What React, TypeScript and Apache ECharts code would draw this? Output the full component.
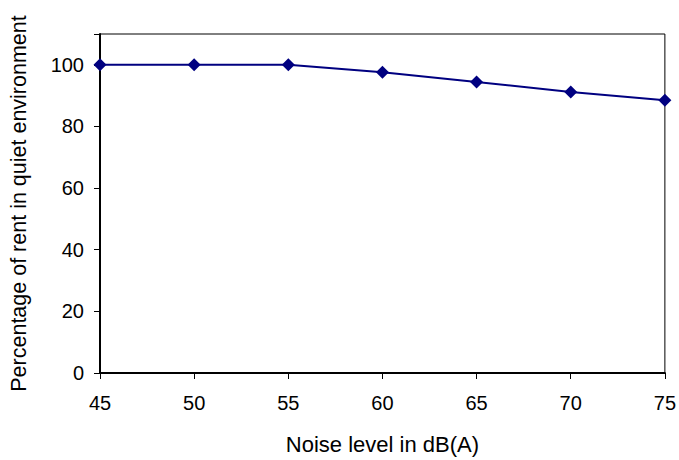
import React, { useEffect, useRef } from "react";
import * as echarts from "echarts";

const noiseLevels = [45, 50, 55, 60, 65, 70, 75];
const rentPercent = [100, 100, 100, 97.6, 94.4, 91.2, 88.5];
const xTitle = "Noise level in dB(A)";
const yTitle = "Percentage of rent in quiet environment";

export default function App() {
  const ref = useRef<HTMLDivElement>(null);
  useEffect(() => {
    document.body.style.margin = "0";
    if (!ref.current) return;
    const chart = echarts.init(ref.current, undefined, { renderer: "svg" });
    const font = "Liberation Sans, Arial, sans-serif";
    chart.setOption({
      animation: false,
      backgroundColor: "#ffffff",
      grid: {
        left: 100,
        right: 12,
        top: 34,
        bottom: 83,
        show: true,
        borderColor: "#000000",
        borderWidth: 1,
        backgroundColor: "transparent",
      },
      xAxis: {
        type: "value",
        min: 45,
        max: 75,
        interval: 5,
        name: xTitle,
        nameLocation: "middle",
        nameGap: 60,
        nameTextStyle: { fontFamily: font, fontSize: 22, color: "#000" },
        axisLine: { show: true, lineStyle: { color: "#000", width: 2 } },
        axisTick: { show: true, inside: false, length: 6, lineStyle: { color: "#000" } },
        axisLabel: { fontFamily: font, fontSize: 20, color: "#000", margin: 20 },
        splitLine: { show: false },
      },
      yAxis: {
        type: "value",
        min: 0,
        max: 110,
        interval: 20,
        name: yTitle,
        nameLocation: "middle",
        nameGap: 70,
        nameTextStyle: { fontFamily: font, fontSize: 21.5, color: "#000" },
        axisLine: { show: true, lineStyle: { color: "#000", width: 2 } },
        axisTick: { show: true, inside: false, length: 6, lineStyle: { color: "#000" } },
        axisLabel: {
          fontFamily: font,
          fontSize: 20,
          color: "#000",
          margin: 16,
          formatter: (v: number) => (v % 20 === 0 ? String(v) : ""),
        },
        splitLine: { show: false },
      },
      series: [
        {
          type: "line",
          data: noiseLevels.map((x, i) => [x, rentPercent[i]]),
          symbol: "diamond",
          symbolSize: 13,
          itemStyle: { color: "#000080" },
          lineStyle: { color: "#000080", width: 2 },
        },
      ],
    });
    return () => chart.dispose();
  }, []);
  return <div ref={ref} style={{ width: 679, height: 460 }} />;
}
